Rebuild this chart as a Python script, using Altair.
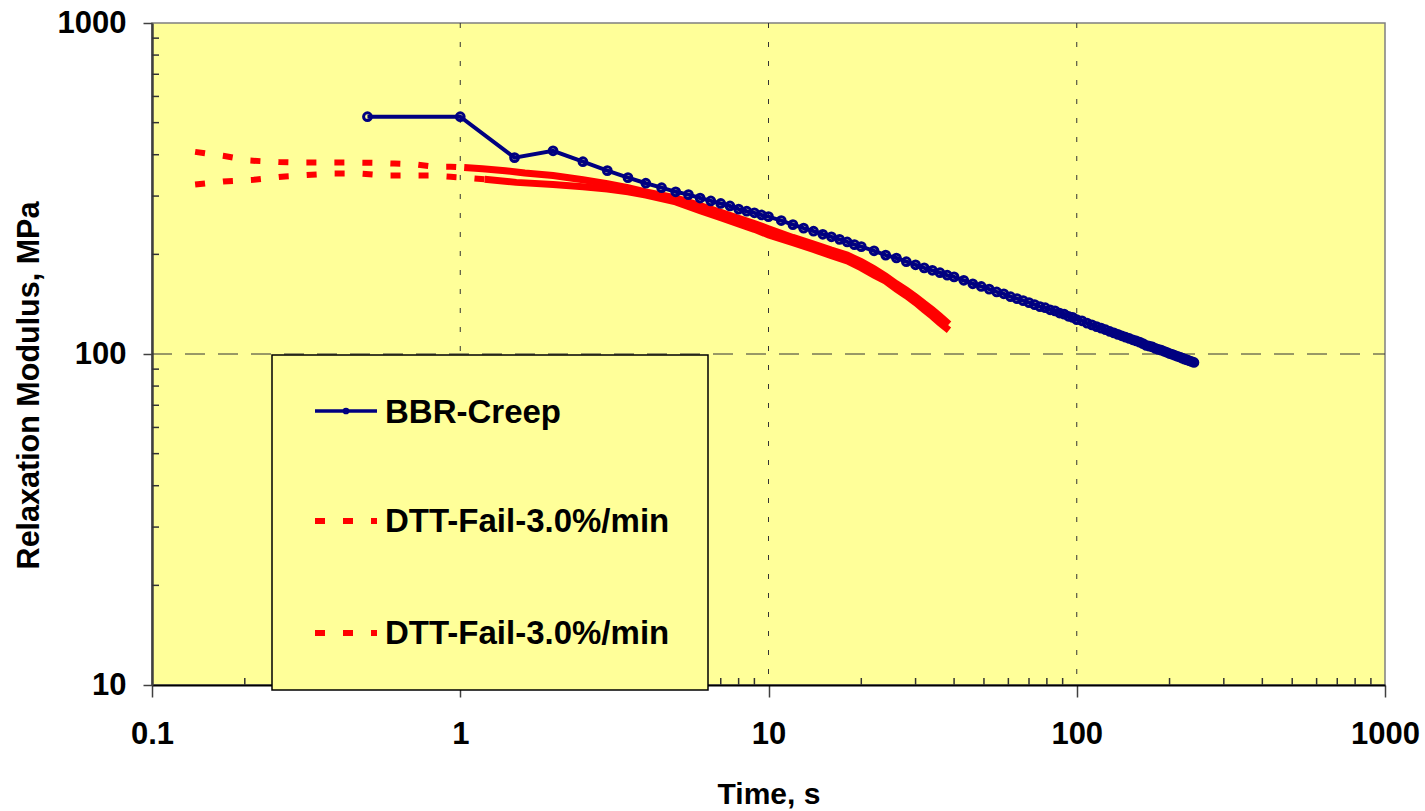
import altair as alt
import pandas as pd

# ---------------- data ----------------
BBR_T = [0.5, 1, 1.5, 2, 2.5, 3, 3.5, 4, 4.5, 5, 5.5, 6, 6.5, 7, 7.5, 8, 8.5, 9, 9.5, 10,
         11, 12, 13, 14, 15, 16, 17, 18, 19, 20,
         22, 24, 26, 28, 30, 32, 34, 36, 38, 40,
         43, 46, 49, 52, 55, 58, 61, 64, 67, 70, 73, 76, 79, 82, 85, 88, 91, 94, 97, 100,
         104, 108, 112, 116, 120, 124, 128, 132, 136, 140, 144, 148, 152, 156, 160, 164, 168,
         172, 176, 180, 184, 188, 192, 196, 200, 204, 208, 212, 216, 220, 224, 228, 232, 236, 240]
BBR_V = [521, 521, 392, 411, 381, 358, 341, 328, 318, 309, 303, 296, 290, 285, 280, 274, 270, 267, 263, 260,
         253, 246, 240, 235, 230, 226, 222, 218, 214, 211,
         205, 199, 195, 190, 186, 182, 179, 176, 173, 171,
         167, 163, 160, 157, 154, 152, 149, 147, 145, 143, 141, 139, 138, 136, 135, 133, 132, 130, 129, 127,
         126, 124, 122.5, 121, 119.7, 118.4, 117, 115.8, 114.6, 113.5, 112.4, 111.4, 110.4, 109.5, 108.6, 107.5, 106.2,
         105.6, 105.0, 104.0, 103.2, 102.7, 101.9, 101.2, 100.3, 99.8, 99.1, 98.4, 97.9, 97.2, 96.5, 96.0, 95.4, 94.9, 94.3]

DTT1_T = [0.138, 0.17, 0.208, 0.258, 0.29, 0.37, 0.45, 0.53, 0.61, 0.71, 0.82, 0.93, 1.03, 1.18, 1.4,
          1.62, 2.0, 2.5, 3, 3.5, 4, 5, 6, 7, 8, 9, 10, 12, 14, 16, 18, 20, 22, 24, 26, 28, 30, 32, 34, 36, 38.5]
DTT1_V = [408, 397, 384, 380, 379, 379, 379, 378, 376, 374, 368, 368, 366, 363, 358,
          352, 346, 336, 327, 318, 309, 296, 281, 268, 257, 248, 239, 225, 215, 206, 199, 190, 181, 172, 163,
          156, 149, 142, 136, 130, 123]

DTT2_T = [0.138, 0.17, 0.214, 0.27, 0.384, 0.47, 0.58, 0.69, 0.81, 0.93, 1.04, 1.2, 1.52, 2.0,
          2.5, 3, 3.5, 4, 5, 6, 7, 8, 9, 10, 12, 14, 16, 18, 20, 22, 24, 26, 28, 30, 32, 34, 36, 38.5]
DTT2_V = [325, 332, 336, 344, 351, 351, 346, 346, 346, 343, 341, 337, 330, 325,
          320, 315, 309, 302, 288, 271, 258, 247, 238, 229, 217, 207, 198, 191, 182, 173, 166, 157,
          150, 143, 136, 130, 124, 118]

LEGEND_LABELS = ["BBR-Creep", "DTT-Fail-3.0%/min", "DTT-Fail-3.0%/min"]

X_LABELS = [0.1, 1, 10, 100, 1000]
Y_LABELS = [10, 100, 1000]
GRID_X = [1, 10, 100]
GRID_Y = [100]
MINOR_X = [m * d for d in (0.1, 1, 10, 100) for m in range(2, 10)]
MINOR_Y = [m * d for d in (10, 100) for m in range(2, 10)]

# ---------------- style ----------------
FONT = "Liberation Sans"
BLUE = "#000080"
RED = "#FF0000"
W, H = 1233, 662
DTT1_SPLIT = 12   # dashed up to this index, solid after
DTT2_SPLIT = 11

X_SCALE = alt.Scale(type="log", domain=[0.1, 1000], nice=False)
Y_SCALE = alt.Scale(type="log", domain=[10, 1000], nice=False)

AXIS_X = alt.Axis(title="Time, s", values=X_LABELS, format="~g", grid=False,
                  tickSize=12, tickColor="#404040", tickWidth=1.5,
                  domainColor="#000000", domainWidth=2,
                  labelFont=FONT, labelFontSize=31, labelFontWeight="bold", labelColor="#000000",
                  labelBaseline="alphabetic", labelPadding=46, labelFlush=False, labelOverlap=False,
                  titleFont=FONT, titleFontSize=30, titleFontWeight="bold", titleColor="#000000",
                  titleBaseline="alphabetic", titleY=118, titleX=W / 2, titleAlign="center")
AXIS_Y = alt.Axis(title="Relaxation Modulus, MPa", values=Y_LABELS, format="d", grid=False,
                  tickSize=9, tickColor="#404040", tickWidth=1.5,
                  domainColor="#404040", domainWidth=2.5,
                  labelFont=FONT, labelFontSize=31, labelFontWeight="bold", labelColor="#000000",
                  labelPadding=17, labelFlush=False, labelOverlap=False,
                  titleFont=FONT, titleFontSize=30.5, titleFontWeight="bold", titleColor="#000000",
                  titleAngle=270, titleX=-114, titleY=362, titleAlign="center",
                  titleBaseline="alphabetic")


def xe():
    return alt.X("t:Q", scale=X_SCALE, axis=AXIS_X)


def ye():
    return alt.Y("v:Q", scale=Y_SCALE, axis=AXIS_Y)


bbr = pd.DataFrame({"t": BBR_T, "v": BBR_V})
d1a = pd.DataFrame({"t": DTT1_T[:DTT1_SPLIT + 1], "v": DTT1_V[:DTT1_SPLIT + 1]})
d1b = pd.DataFrame({"t": DTT1_T[DTT1_SPLIT:], "v": DTT1_V[DTT1_SPLIT:]})
d2a = pd.DataFrame({"t": DTT2_T[:DTT2_SPLIT + 1], "v": DTT2_V[:DTT2_SPLIT + 1]})
d2b = pd.DataFrame({"t": DTT2_T[DTT2_SPLIT:], "v": DTT2_V[DTT2_SPLIT:]})

layers = []

# gridlines
layers.append(alt.Chart(pd.DataFrame({"t": GRID_X})).mark_rule(
    color="#333333", strokeWidth=1, strokeDash=[5, 14]).encode(
    x=xe(), y=alt.value(0), y2=alt.value(H)))
layers.append(alt.Chart(pd.DataFrame({"v": GRID_Y})).mark_rule(
    color="#333333", strokeWidth=1, strokeDash=[20, 13]).encode(
    y=ye(), x=alt.value(0), x2=alt.value(W)))

# inward minor ticks
layers.append(alt.Chart(pd.DataFrame({"t": MINOR_X})).mark_rule(
    color="#333333", strokeWidth=1.5).encode(
    x=xe(), y=alt.value(H), y2=alt.value(H - 7)))
layers.append(alt.Chart(pd.DataFrame({"v": MINOR_Y})).mark_rule(
    color="#333333", strokeWidth=1.5).encode(
    y=ye(), x=alt.value(0), x2=alt.value(7)))

# DTT series (red dashed, becoming solid where points are dense)
for early, late in ((d1a, d1b), (d2a, d2b)):
    layers.append(alt.Chart(early).mark_line(
        color=RED, strokeWidth=6, strokeDash=[10, 18], strokeCap="butt").encode(
        x=xe(), y=ye(), order="t:Q"))
    layers.append(alt.Chart(late).mark_line(
        color=RED, strokeWidth=7, strokeCap="butt").encode(
        x=xe(), y=ye(), order="t:Q"))

# BBR series (navy line with hollow circle markers)
layers.append(alt.Chart(bbr).mark_line(color=BLUE, strokeWidth=4).encode(
    x=xe(), y=ye(), order="t:Q"))
layers.append(alt.Chart(bbr).mark_point(
    shape="circle", filled=False, color=BLUE, size=60, strokeWidth=3, opacity=1).encode(
    x=xe(), y=ye()))

# legend box
one = pd.DataFrame({"k": [0]})
layers.append(alt.Chart(one).mark_rect(
    fill="#FFFF99", stroke="#000000", strokeWidth=1.5).encode(
    x=alt.value(120), x2=alt.value(556), y=alt.value(332), y2=alt.value(667)))

# legend symbols
layers.append(alt.Chart(one).mark_rule(color=BLUE, strokeWidth=3.5).encode(
    x=alt.value(163), x2=alt.value(225), y=alt.value(388)))
layers.append(alt.Chart(one).mark_point(
    shape="circle", filled=False, color=BLUE, size=22, strokeWidth=2, opacity=1).encode(
    x=alt.value(194), y=alt.value(388)))
for yy in (498, 610):
    layers.append(alt.Chart(one).mark_rule(
        color=RED, strokeWidth=6, strokeDash=[10, 18], strokeCap="butt").encode(
        x=alt.value(163), x2=alt.value(225), y=alt.value(yy)))

# legend labels
for lab, yy in zip(LEGEND_LABELS, (400, 509, 621)):
    layers.append(alt.Chart(pd.DataFrame({"label": [lab]})).mark_text(
        align="left", baseline="alphabetic", font=FONT, fontSize=33,
        fontWeight="bold", color="#000000").encode(
        x=alt.value(233), y=alt.value(yy), text="label:N"))

chart = alt.layer(*layers).properties(
    width=W, height=H,
    autosize=alt.AutoSizeParams(type="none"),
    padding={"left": 152, "top": 23, "right": 40, "bottom": 126},
    background="#FFFFFF",
).configure_view(
    fill="#FFFF99", stroke="#808080", strokeWidth=1.5
)

chart.save("out.html", embed_options={"renderer": "svg", "actions": False})
